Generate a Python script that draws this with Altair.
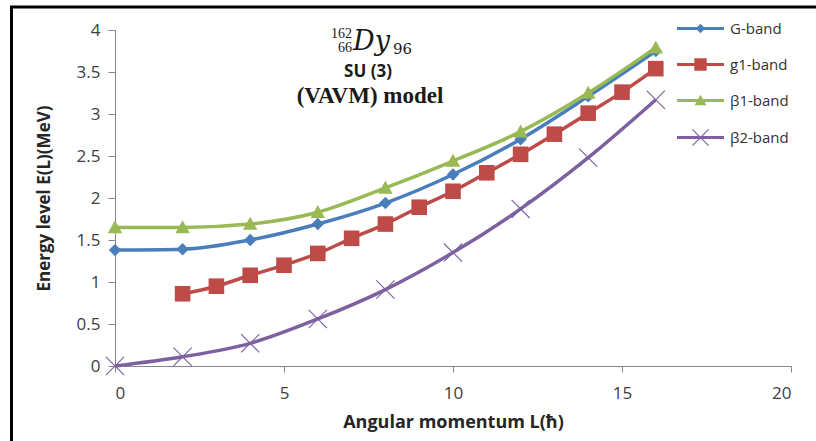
import altair as alt
import pandas as pd

# ---- data ----
bands = ["G-band", "g1-band", "β1-band", "β2-band"]
colors = ["#4A7EBB", "#BE4B48", "#98B954", "#7D60A0"]

L_G = [0, 2, 4, 6, 8, 10, 12, 14, 16]
E_G = [1.38, 1.39, 1.50, 1.69, 1.94, 2.28, 2.70, 3.21, 3.75]

L_g1 = [2, 3, 4, 5, 6, 7, 8, 9, 10, 11, 12, 13, 14, 15, 16]
E_g1 = [0.86, 0.95, 1.08, 1.20, 1.34, 1.52, 1.69, 1.89, 2.08, 2.30, 2.52, 2.76, 3.01, 3.26, 3.54]

L_b1 = [0, 2, 4, 6, 8, 10, 12, 14, 16]
E_b1 = [1.65, 1.65, 1.69, 1.83, 2.12, 2.44, 2.79, 3.25, 3.79]

L_b2 = [0, 2, 4, 6, 8, 10, 12, 14, 16]
E_b2 = [0.0, 0.11, 0.27, 0.56, 0.91, 1.35, 1.87, 2.48, 3.17]

x_ticks = [0, 5, 10, 15, 20]
y_ticks = [0, 0.5, 1, 1.5, 2, 2.5, 3, 3.5, 4]

rows = []
for name, Ls, Es in zip(bands, [L_G, L_g1, L_b1, L_b2], [E_G, E_g1, E_b1, E_b2]):
    for l, e in zip(Ls, Es):
        rows.append({"band": name, "L": l, "E": e})
df = pd.DataFrame(rows)

# marker shapes for the plotted points (unit = 10 px at size 400)
markers = [
    "M0,-0.62L0.62,0L0,0.62L-0.62,0Z",
    "M-0.78,-0.78H0.78V0.78H-0.78Z",
    "M0,-0.72L0.72,0.58H-0.72Z",
    "M-0.95,-0.87L-0.87,-0.95L0.95,0.87L0.87,0.95Z M0.87,-0.95L0.95,-0.87L-0.87,0.95L-0.95,0.87Z",
]
# legend symbols: line segment + marker (unit = 5 px at legend symbol size 100)
legend_shapes = [
    "M0,-0.96L0.96,0L0,0.96L-0.96,0Z",
    "M-1.24,-1.24H1.24V1.24H-1.24Z",
    "M0,-1.16L1.2,0.96H-1.2Z",
    "M-1.7,-1.54L-1.54,-1.7L1.7,1.54L1.54,1.7Z M1.54,-1.7L1.7,-1.54L-1.54,1.7L-1.7,1.54Z",
]
seg = "M-4.7,-0.32H4.7V0.32H-4.7Z "
legend_markers = [seg + m for m in legend_shapes]

FONT = "Open Sans"
AX = "#868686"

x_enc = alt.X("L:Q", scale=alt.Scale(domain=[0, 20], nice=False),
              axis=alt.Axis(values=x_ticks, title="Angular momentum L(ħ)", grid=False,
                            domainColor=AX, tickColor=AX, tickSize=6,
                            labelFont=FONT, labelFontSize=17, labelColor="#404040",
                            labelPadding=13, titleFont=FONT, titleFontSize=18,
                            titleFontWeight="bold", titleColor="#262626", titlePadding=12))
y_enc = alt.Y("E:Q", scale=alt.Scale(domain=[0, 4], nice=False),
              axis=alt.Axis(values=y_ticks, format="~g", title="Energy level E(L)(MeV)", grid=False,
                            domainColor=AX, tickColor=AX, tickSize=7,
                            labelFont=FONT, labelFontSize=17, labelColor="#404040",
                            labelPadding=8, titleFont=FONT, titleFontSize=17,
                            titleFontWeight="bold", titleColor="#262626", titlePadding=23))

color_scale = alt.Scale(domain=bands, range=colors)

lines = alt.Chart(df).mark_line(strokeWidth=3.5, interpolate="monotone").encode(
    x=x_enc, y=y_enc,
    color=alt.Color("band:N", scale=color_scale, legend=None),
    detail="band:N",
    order="L:Q",
)

points = alt.Chart(df).mark_point(filled=True, size=400, opacity=1, strokeWidth=0).encode(
    x="L:Q", y="E:Q",
    color=alt.Color("band:N", scale=color_scale, legend=None),
    shape=alt.Shape("band:N", scale=alt.Scale(domain=bands, range=markers), legend=None),
)

leg_kw = dict(title=None, orient="none", legendX=578, legendY=-9,
              padding=0, rowPadding=20, symbolOpacity=1,
              symbolStrokeWidth=0, labelOffset=22,
              labelFont=FONT, labelFontSize=15, labelColor="#333333",
              labelExpr="indexof(datum.label, 'β') == 0 ? '\u00a0' + datum.label : datum.label")

legend_layer = alt.Chart(df).mark_point(filled=True, size=400, opacity=0, strokeWidth=0).encode(
    x="L:Q", y="E:Q",
    color=alt.Color("band:N", scale=color_scale, legend=alt.Legend(**leg_kw)),
    shape=alt.Shape("band:N", scale=alt.Scale(domain=bands, range=legend_markers),
                    legend=alt.Legend(**leg_kw)),
)

# annotation text (pixel positions relative to plot area)
def txt(text, x, y, size, font, weight="normal", style="normal", align="center"):
    return alt.Chart().mark_text(text=text, font=font, fontSize=size, fontWeight=weight,
                                 fontStyle=style, align=align, baseline="middle",
                                 color="#1a1a1a").encode(x=alt.value(x), y=alt.value(y))

ann = [
    txt("162", 237, 4, 14, "Liberation Serif", align="right"),
    txt("66", 237, 18, 14, "Liberation Serif", align="right"),
    txt("Dy", 238, 12, 27, "DejaVu Serif", style="italic", align="left"),
    txt("96", 278, 19, 15, "DejaVu Serif", align="left"),
    txt("SU (3)", 253, 42, 17, FONT, weight="bold"),
    txt("(VAVM) model", 255, 66, 23, "Liberation Serif", weight="bold"),
]

frame_left = alt.Chart().mark_rule(color="black", strokeWidth=3).encode(
    x=alt.value(-103.5), y=alt.value(-24), y2=alt.value(411))
frame_top = alt.Chart().mark_rule(color="black", strokeWidth=3).encode(
    x=alt.value(-105), x2=alt.value(701), y=alt.value(-23))

chart = alt.layer(lines, points, legend_layer, *ann, frame_left, frame_top).resolve_scale(
    color="independent", shape="independent"
).properties(
    width=676, height=336,
    autosize=alt.AutoSizeParams(type="none"),
    padding={"left": 115, "top": 30, "right": 25, "bottom": 75},
    background="white",
).configure_view(stroke=None)

chart.save("out.html", embed_options={"renderer": "svg", "actions": False})
